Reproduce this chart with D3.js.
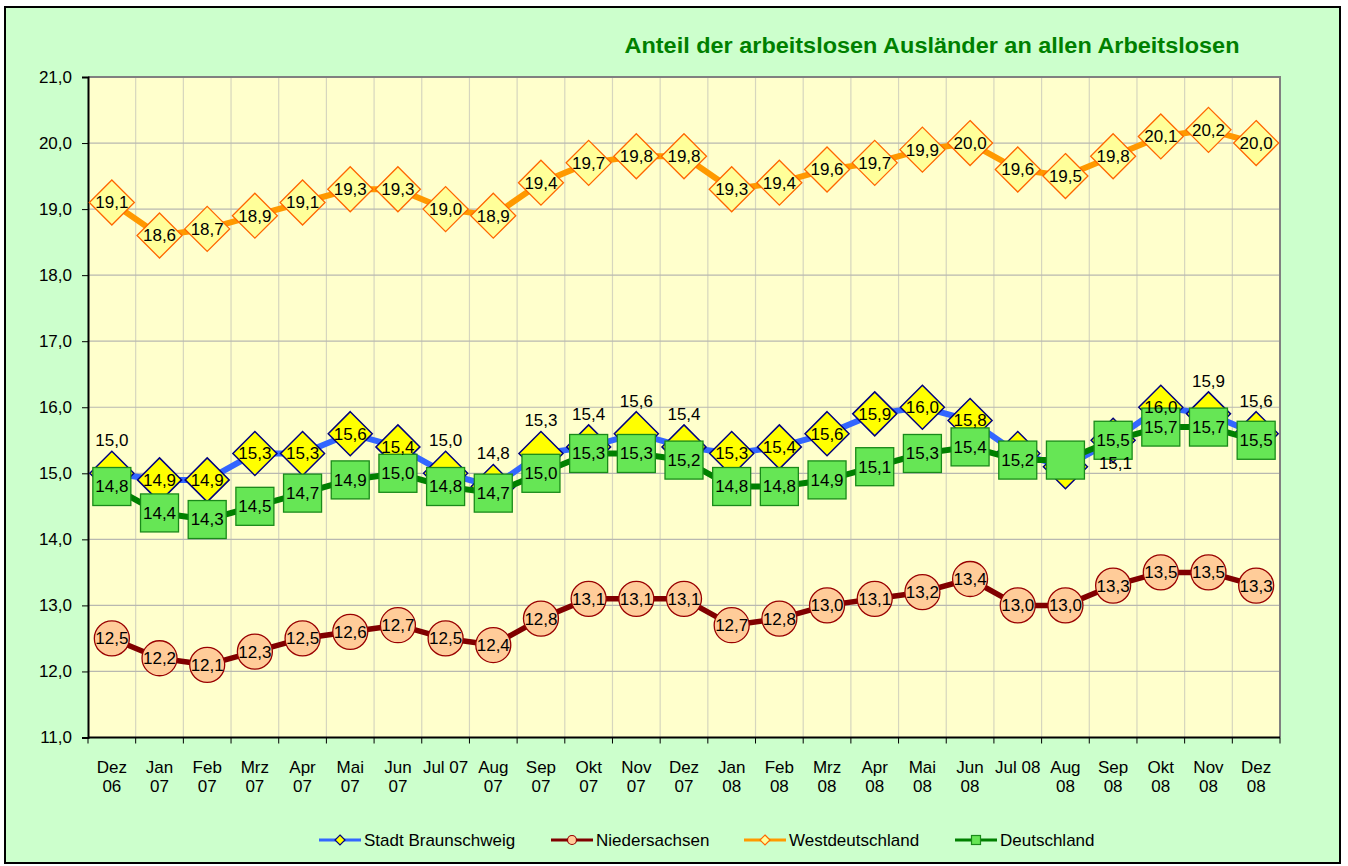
<!DOCTYPE html>
<html><head><meta charset="utf-8">
<script src="https://cdn.jsdelivr.net/npm/d3@7"></script>
<style>html,body{margin:0;padding:0;background:#fff;}svg{display:block;font-family:"Liberation Sans",Arial,sans-serif;}</style>
</head><body>
<svg id="c" width="1348" height="866"></svg>
<script>
const categories = [["Dez","06"],["Jan","07"],["Feb","07"],["Mrz","07"],["Apr","07"],["Mai","07"],["Jun","07"],["Jul 07"],["Aug","07"],["Sep","07"],["Okt","07"],["Nov","07"],["Dez","07"],["Jan","08"],["Feb","08"],["Mrz","08"],["Apr","08"],["Mai","08"],["Jun","08"],["Jul 08"],["Aug","08"],["Sep","08"],["Okt","08"],["Nov","08"],["Dez","08"]];
const braunschweig = [15.0,14.9,14.9,15.3,15.3,15.6,15.4,15.0,14.8,15.3,15.4,15.6,15.4,15.3,15.4,15.6,15.9,16.0,15.8,15.3,15.1,15.5,16.0,15.9,15.6];
const niedersachsen = [12.5,12.2,12.1,12.3,12.5,12.6,12.7,12.5,12.4,12.8,13.1,13.1,13.1,12.7,12.8,13.0,13.1,13.2,13.4,13.0,13.0,13.3,13.5,13.5,13.3];
const westdeutschland = [19.1,18.6,18.7,18.9,19.1,19.3,19.3,19.0,18.9,19.4,19.7,19.8,19.8,19.3,19.4,19.6,19.7,19.9,20.0,19.6,19.5,19.8,20.1,20.2,20.0];
const deutschland = [14.8,14.4,14.3,14.5,14.7,14.9,15.0,14.8,14.7,15.0,15.3,15.3,15.2,14.8,14.8,14.9,15.1,15.3,15.4,15.2,15.2,15.5,15.7,15.7,15.5];
const yTicks = [11,12,13,14,15,16,17,18,19,20,21];
const title = "Anteil der arbeitslosen Ausländer an allen Arbeitslosen";
const seriesNames = ["Stadt Braunschweig","Niedersachsen","Westdeutschland","Deutschland"];
// label placement for Braunschweig: c = centered, a = above, n = none, r = shifted right
const bsLabelMode = ["a","c","c","c","c","c","c","a","a","a","a","a","a","c","c","c","c","c","c","n","r","n","c","a","a"];
const dtLabelMode = deutschland.map((d,i)=> i===20 ? "n" : "c");

const FS = 17;
const svg = d3.select("#c");
const fmt = v => d3.format(".1f")(v).replace(".", ",");
const M = {l:88, r:1280, t:77, b:737.5};

svg.append("rect").attr("x",0).attr("y",0).attr("width",1348).attr("height",866).attr("fill","#fff");
svg.append("rect").attr("x",5).attr("y",7).attr("width",1335).attr("height",856)
  .attr("fill","#CCFFCC").attr("stroke","#000").attr("stroke-width",2);

const x = d3.scaleBand().domain(d3.range(categories.length)).range([M.l, M.r]).padding(0);
const y = d3.scaleLinear().domain([11,21]).range([M.b, M.t]);
const cx = i => x(i) + x.bandwidth()/2;

// plot area
svg.append("rect").attr("x",M.l).attr("y",M.t).attr("width",M.r-M.l).attr("height",M.b-M.t).attr("fill","#FFFFCC");
svg.append("g").selectAll("line").data(d3.range(1,categories.length)).join("line")
  .attr("x1",i=>x(i)).attr("x2",i=>x(i)).attr("y1",M.t).attr("y2",M.b)
  .attr("stroke","#D6D6BE").attr("stroke-width",1.2);
svg.append("g").selectAll("line").data(yTicks.slice(1)).join("line")
  .attr("x1",M.l).attr("x2",M.r).attr("y1",d=>y(d)).attr("y2",d=>y(d))
  .attr("stroke","#B8B8B0").attr("stroke-width",1.2);
svg.append("path").attr("d",`M${M.l},${M.t}H${M.r}V${M.b}`).attr("fill","none").attr("stroke","#808080").attr("stroke-width",2);

// Y axis
const yAxis = d3.axisLeft(y).tickValues(yTicks).tickFormat(fmt).tickSize(6).tickPadding(10);
const yg = svg.append("g").attr("transform",`translate(${M.l},0)`).call(yAxis);
yg.select(".domain").attr("stroke","#000").attr("stroke-width",2);
yg.selectAll(".tick line").attr("stroke","#000");
yg.selectAll("text").attr("font-size",FS).attr("fill","#000").attr("font-family","Liberation Sans, Arial");

// X axis
const xg = svg.append("g").attr("transform",`translate(0,${M.b})`);
xg.append("line").attr("x1",M.l).attr("x2",M.r).attr("y1",0).attr("y2",0).attr("stroke","#000").attr("stroke-width",2);
xg.selectAll("line.tk").data(d3.range(0,categories.length+1)).join("line").attr("class","tk")
  .attr("x1",i=> i<categories.length ? x(i) : M.r).attr("x2",i=> i<categories.length ? x(i) : M.r)
  .attr("y1",0).attr("y2",6).attr("stroke","#000").attr("stroke-width",1);
const xt = xg.selectAll("text").data(categories).join("text")
  .attr("x",(d,i)=>cx(i)).attr("y",35).attr("text-anchor","middle").attr("font-size",FS).attr("fill","#000");
xt.each(function(d){
  const t = d3.select(this);
  d.forEach((s,k)=> t.append("tspan").attr("x",t.attr("x")).attr("dy",k===0?0:19).text(s));
});

// title
svg.append("text").attr("x",932).attr("y",53).attr("text-anchor","middle")
  .attr("font-size",22).attr("font-weight","bold").attr("fill","#008000")
  .attr("textLength",615).attr("lengthAdjust","spacingAndGlyphs").text(title);

const line = d3.line().x((d,i)=>cx(i)).y(d=>y(d));
const diamond = r => `M0,${-r}L${r},0L0,${r}L${-r},0Z`;

function drawLine(data,color,w){
  svg.append("path").datum(data).attr("d",line).attr("fill","none").attr("stroke",color).attr("stroke-width",w).attr("stroke-linejoin","round");
}
drawLine(westdeutschland,"#FF9900",6);
svg.append("g").selectAll("path").data(westdeutschland).join("path")
  .attr("transform",(d,i)=>`translate(${cx(i)},${y(d)})`).attr("d",diamond(22.5))
  .attr("fill","#FFFF99").attr("stroke","#FF6600").attr("stroke-width",1.3);
drawLine(niedersachsen,"#800000",5.5);
svg.append("g").selectAll("circle").data(niedersachsen).join("circle")
  .attr("cx",(d,i)=>cx(i)).attr("cy",d=>y(d)).attr("r",17.5)
  .attr("fill","#FFCC99").attr("stroke","#990000").attr("stroke-width",1.3);
drawLine(braunschweig,"#3366FF",6);
svg.append("g").selectAll("path").data(braunschweig).join("path")
  .attr("transform",(d,i)=>`translate(${cx(i)},${y(d)})`).attr("d",diamond(22))
  .attr("fill","#FFFF00").attr("stroke","#000080").attr("stroke-width",1.5);
drawLine(deutschland,"#008000",6);
svg.append("g").selectAll("rect").data(deutschland).join("rect")
  .attr("x",(d,i)=>cx(i)-19).attr("y",d=>y(d)-19).attr("width",38).attr("height",38)
  .attr("fill","#66E655").attr("stroke","#1A8A1A").attr("stroke-width",1.3);

function labels(data, modeArr){
  svg.append("g").selectAll("text").data(data.map((d,i)=>({d,i,m:modeArr?modeArr[i]:"c"})).filter(o=>o.m!=="n")).join("text")
    .attr("x",o=> cx(o.i) + (o.m==="r" ? 50 : 0))
    .attr("y",o=> y(o.d) + (o.m==="a" ? -33 : 0) + (o.m==="r" ? -4 : 0))
    .attr("dy","0.35em").attr("text-anchor","middle").attr("font-size",FS).attr("fill","#000")
    .text(o=>fmt(o.d));
}
labels(westdeutschland);
labels(niedersachsen);
labels(braunschweig, bsLabelMode);
labels(deutschland, dtLabelMode);

// legend
const leg = [
  {name:seriesNames[0], color:"#3366FF", sym:"d", fill:"#FFFF00", stroke:"#000080", x:319},
  {name:seriesNames[1], color:"#800000", sym:"c", fill:"#FFCC99", stroke:"#990000", x:551},
  {name:seriesNames[2], color:"#FF9900", sym:"d", fill:"#FFFF99", stroke:"#FF6600", x:744},
  {name:seriesNames[3], color:"#008000", sym:"s", fill:"#66E655", stroke:"#1A8A1A", x:955}
];
const lg = svg.append("g").attr("transform","translate(0,840)");
leg.forEach(e=>{
  const g = lg.append("g").attr("transform",`translate(${e.x},0)`);
  g.append("line").attr("x1",0).attr("x2",42).attr("y1",0).attr("y2",0).attr("stroke",e.color).attr("stroke-width",3);
  if(e.sym==="d") g.append("path").attr("transform","translate(21,0)").attr("d",diamond(5)).attr("fill",e.fill).attr("stroke",e.stroke).attr("stroke-width",1.2);
  if(e.sym==="c") g.append("circle").attr("cx",21).attr("cy",0).attr("r",4.5).attr("fill",e.fill).attr("stroke",e.stroke).attr("stroke-width",1.2);
  if(e.sym==="s") g.append("rect").attr("x",16.5).attr("y",-4.5).attr("width",9).attr("height",9).attr("fill",e.fill).attr("stroke",e.stroke).attr("stroke-width",1.2);
  g.append("text").attr("x",45).attr("y",0).attr("dy","0.35em").attr("font-size",FS).attr("fill","#000").text(e.name);
});
</script>
</body></html>
